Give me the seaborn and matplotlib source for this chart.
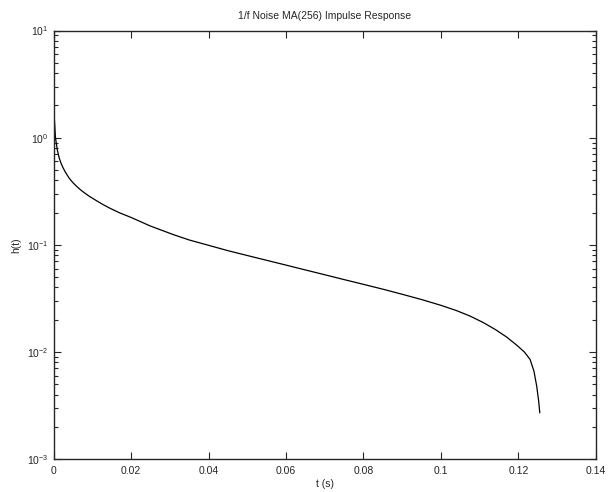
"""
1/f noise MA(256) impulse response, log-scale plot.
"""

import numpy as np
import pandas as pd
import matplotlib
matplotlib.use('Agg')
import matplotlib.pyplot as plt
import seaborn as sns
from matplotlib.ticker import LogLocator, NullFormatter

# Values
t_s = [0.0, 0.0005, 0.001, 0.0015, 0.002, 0.0025, 0.003, 0.004, 0.005,
       0.006, 0.007, 0.008, 0.0094, 0.011, 0.0128, 0.0146, 0.017, 0.02,
       0.025, 0.0309, 0.035, 0.04, 0.045, 0.05, 0.055, 0.06, 0.065, 0.07,
       0.075, 0.08, 0.085, 0.09, 0.095, 0.1, 0.104, 0.1075, 0.1109, 0.114,
       0.1169, 0.1195, 0.1215, 0.123, 0.124, 0.1247, 0.1252, 0.1255]
h_t = [2.05, 1.0, 0.76, 0.64, 0.57, 0.52, 0.48, 0.42, 0.38,
       0.35, 0.325, 0.305, 0.281, 0.259, 0.237, 0.219, 0.199, 0.18,
       0.1496, 0.1245, 0.1109, 0.0989, 0.0881, 0.0794, 0.0716, 0.0646, 0.0582, 0.0525,
       0.0473, 0.0427, 0.0385, 0.0345, 0.0308, 0.0272, 0.0243, 0.0216, 0.0188, 0.0162,
       0.0138, 0.0116, 0.0100, 0.0085, 0.0066, 0.0048, 0.0035, 0.0027]

x_ticks = [0, 0.02, 0.04, 0.06, 0.08, 0.1, 0.12, 0.14]
x_tick_labels = ['0', '0.02', '0.04', '0.06', '0.08', '0.1', '0.12', '0.14']

sns.set_style('ticks')
plt.rcParams['font.family'] = ['Liberation Sans', 'DejaVu Sans']
plt.rcParams['mathtext.fontset'] = 'custom'
plt.rcParams['mathtext.rm'] = 'Liberation Sans'
plt.rcParams['mathtext.it'] = 'Liberation Sans:italic'

df = pd.DataFrame({'t': t_s, 'h': h_t})

fig = plt.figure(figsize=(6.11, 4.92), dpi=100)
ax = fig.add_axes([0.0876, 0.067, 0.8878, 0.871])

sns.lineplot(data=df, x='t', y='h', ax=ax, color='black', linewidth=0.9,
             estimator=None, sort=False)

ax.set_yscale('log')
ax.set_xlim(0, 0.14)
ax.set_ylim(1e-3, 1e1)
ax.set_xticks(x_ticks)
ax.set_xticklabels(x_tick_labels)
ax.yaxis.set_major_locator(LogLocator(base=10, numticks=10))
ax.yaxis.set_minor_locator(LogLocator(base=10, subs=np.arange(2, 10), numticks=20))
ax.yaxis.set_minor_formatter(NullFormatter())

ax.tick_params(which='both', direction='in', top=True, right=True,
               labelsize=7.5, width=0.8)
ax.tick_params(which='major', length=5)
ax.tick_params(which='minor', length=3)
ax.tick_params(axis='x', pad=5)
for s in ax.spines.values():
    s.set_linewidth(1.0)
    s.set_visible(True)

ax.set_title('1/f Noise MA(256) Impulse Response', fontsize=7.5, pad=8)
ax.set_xlabel('t (s)', fontsize=7.5, labelpad=2)
ax.set_ylabel('h(t)', fontsize=7.5, labelpad=4)

plt.savefig('out.png', dpi=100)
plt.close()
